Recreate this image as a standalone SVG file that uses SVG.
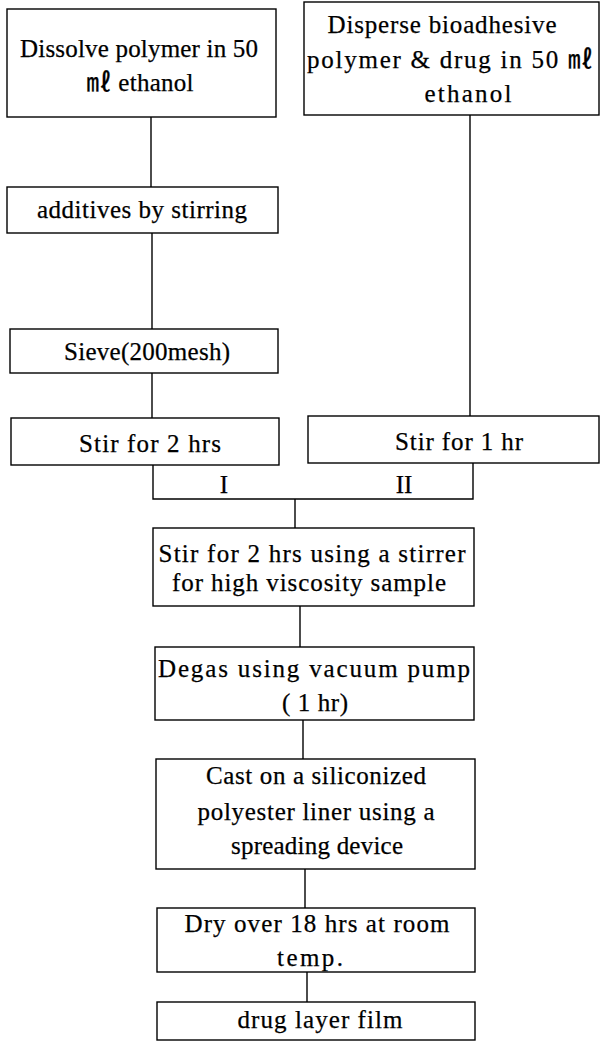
<svg xmlns="http://www.w3.org/2000/svg" width="601" height="1042" viewBox="0 0 601 1042">
<style>
rect{fill:#fff;stroke:#000;stroke-width:1.4}
.c{fill:none;stroke:#000;stroke-width:1.4}
text{font-family:"Liberation Serif","Noto Sans CJK KR",serif;font-size:25px;fill:#000;text-anchor:middle;stroke:#000;stroke-width:0.25}
</style>
<rect x="0" y="0" width="601" height="1042" style="stroke:none"/>
<g id="connectors">
<path class="c" d="M151 117V187"/>
<path class="c" d="M152 233V329"/>
<path class="c" d="M152 373V418"/>
<path class="c" d="M470 115V416"/>
<path class="c" d="M153 465V499H473V463"/>
<path class="c" d="M295 499V528"/>
<path class="c" d="M300 606V647"/>
<path class="c" d="M303 720V759"/>
<path class="c" d="M305 869V908"/>
<path class="c" d="M307 972V1002"/>
</g>
<g id="n1">
<rect x="7" y="9" width="269" height="108"/>
<text x="139" y="57" textLength="238" lengthAdjust="spacing">Dissolve polymer in 50</text>
<text x="140" y="91" textLength="107" lengthAdjust="spacing">㎖ ethanol</text>
</g>
<g id="n2">
<rect x="304" y="2" width="295" height="113"/>
<text x="442" y="33" textLength="229" lengthAdjust="spacing">Disperse bioadhesive</text>
<text x="450" y="68" textLength="286" lengthAdjust="spacing">polymer &amp; drug in 50 ㎖</text>
<text x="468" y="102" textLength="87" lengthAdjust="spacing">ethanol</text>
</g>
<g id="n3">
<rect x="7" y="187" width="271" height="46"/>
<text x="142" y="218" textLength="210" lengthAdjust="spacing">additives by stirring</text>
</g>
<g id="n4">
<rect x="10" y="329" width="268" height="44"/>
<text x="147" y="360" textLength="166" lengthAdjust="spacing">Sieve(200mesh)</text>
</g>
<g id="n5">
<rect x="11" y="418" width="268" height="47"/>
<text x="150" y="452" textLength="142" lengthAdjust="spacing">Stir for 2 hrs</text>
</g>
<g id="n6">
<rect x="308" y="416" width="291" height="47"/>
<text x="459" y="450" textLength="128" lengthAdjust="spacing">Stir for 1 hr</text>
</g>
<g id="labels">
<text x="224" y="493">I</text>
<text x="404" y="493">II</text>
</g>
<g id="n7">
<rect x="153" y="528" width="321" height="78"/>
<text x="312" y="562" textLength="307" lengthAdjust="spacing">Stir for 2 hrs using a stirrer</text>
<text x="309" y="591" textLength="274" lengthAdjust="spacing">for high viscosity sample</text>
</g>
<g id="n8">
<rect x="155" y="647" width="319" height="73"/>
<text x="314" y="677" textLength="312" lengthAdjust="spacing">Degas using vacuum pump</text>
<text x="315" y="711" textLength="66" lengthAdjust="spacing">( 1 hr)</text>
</g>
<g id="n9">
<rect x="156" y="759" width="319" height="110"/>
<text x="316" y="784" textLength="220" lengthAdjust="spacing">Cast on a siliconized</text>
<text x="316" y="820" textLength="237" lengthAdjust="spacing">polyester liner using a</text>
<text x="317" y="854" textLength="172" lengthAdjust="spacing">spreading device</text>
</g>
<g id="n10">
<rect x="157" y="908" width="318" height="64"/>
<text x="317" y="932" textLength="265" lengthAdjust="spacing">Dry over 18 hrs at room</text>
<text x="310" y="966" textLength="66" lengthAdjust="spacing">temp.</text>
</g>
<g id="n11">
<rect x="157" y="1002" width="318" height="38"/>
<text x="320" y="1028" textLength="165" lengthAdjust="spacing">drug layer film</text>
</g>
</svg>
